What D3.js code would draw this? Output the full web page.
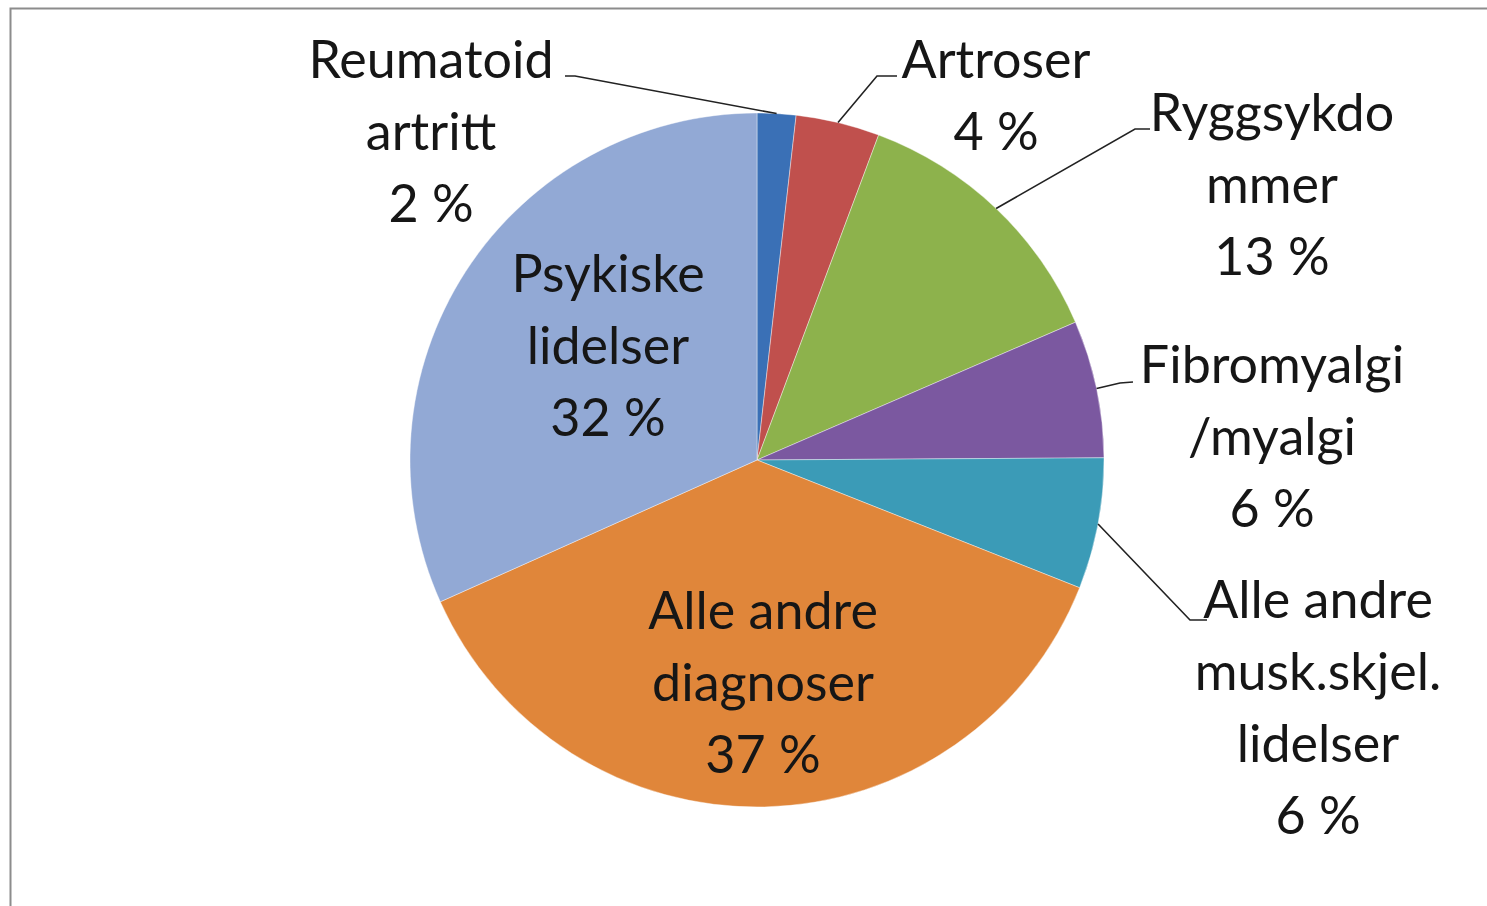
<!DOCTYPE html>
<html>
<head>
<meta charset="utf-8">
<title>Diagnoser</title>
<style>
  body { margin: 0; background: #fff; }
  svg { display: block; }
  .lbl { font-family: Lato, "Noto Sans", sans-serif; font-size: 52px; fill: #161616; }
</style>
</head>
<body>
<svg width="1487" height="906"></svg>
<script src="https://d3js.org/d3.v7.min.js"></script>
<script>
// data (clockwise from 12 o'clock)
var categories = ["Reumatoid artritt", "Artroser", "Ryggsykdommer", "Fibromyalgi/myalgi",
                  "Alle andre musk.skjel. lidelser", "Alle andre diagnoser", "Psykiske lidelser"];
var shares = [1.8, 3.9, 12.8, 6.4, 6.1, 37.3, 31.7];
var labelLines = [
  ["Reumatoid", "artritt"],
  ["Artroser"],
  ["Ryggsykdo", "mmer"],
  ["Fibromyalgi", "/myalgi"],
  ["Alle andre", "musk.skjel.", "lidelser"],
  ["Alle andre", "diagnoser"],
  ["Psykiske", "lidelser"]
];
var colors = ["#3a70b6", "#c0504d", "#8db24c", "#7b58a0", "#3b9bb7", "#e0863a", "#92a9d5"];

// layout (relative to pie centre)
var cx = 757, cy = 460, R = 347, lineH = 72;
var labelPos = [[-326, -328], [239, -364], [515, -275], [515, -23], [561, 248], [6, 223], [-149, -114]];
// leader elbow + end point, null = label inside
var leaders = [[[-182, -384], [-192, -384]], [[120, -384], [140, -384]], [[378, -331], [393, -331]],
               [[363, -77], [376, -78]], [[433, 160], [450, 160]], null, null];

var svg = d3.select("svg");

// chart frame
svg.append("rect")
  .attr("x", 10.5).attr("y", 8.5)
  .attr("width", 1500).attr("height", 1000)
  .attr("fill", "none").attr("stroke", "#8c8c8c").attr("stroke-width", 2);

var g = svg.append("g").attr("transform", "translate(" + cx + "," + cy + ")");

var pie = d3.pie().sort(null).value(d => d);
var arcs = pie(shares);
var arc = d3.arc().innerRadius(0).outerRadius(R);

g.selectAll("path.slice")
  .data(arcs)
  .enter().append("path")
  .attr("class", "slice")
  .attr("d", arc)
  .attr("fill", (d, i) => colors[i])
  .attr("stroke", "#fff").attr("stroke-width", 0.8).attr("stroke-opacity", 0.5);

// leader lines
arcs.forEach(function(d, i) {
  if (!leaders[i]) return;
  var a = (d.startAngle + d.endAngle) / 2;
  var p0 = [R * Math.sin(a), -R * Math.cos(a)];
  g.append("path")
    .attr("d", d3.line()([p0, leaders[i][0], leaders[i][1]]))
    .attr("fill", "none").attr("stroke", "#222").attr("stroke-width", 1.6);
});

// labels
arcs.forEach(function(d, i) {
  var lines = labelLines[i].concat([Math.round(shares[i]) + " %"]);
  var t = g.append("text")
    .attr("class", "lbl")
    .attr("text-anchor", "middle")
    .attr("x", labelPos[i][0])
    .attr("y", labelPos[i][1] - (lines.length - 1) / 2 * lineH);
  lines.forEach(function(s, k) {
    t.append("tspan").attr("x", labelPos[i][0]).attr("dy", k === 0 ? "0.35em" : lineH).text(s);
  });
});
</script>
</body>
</html>
